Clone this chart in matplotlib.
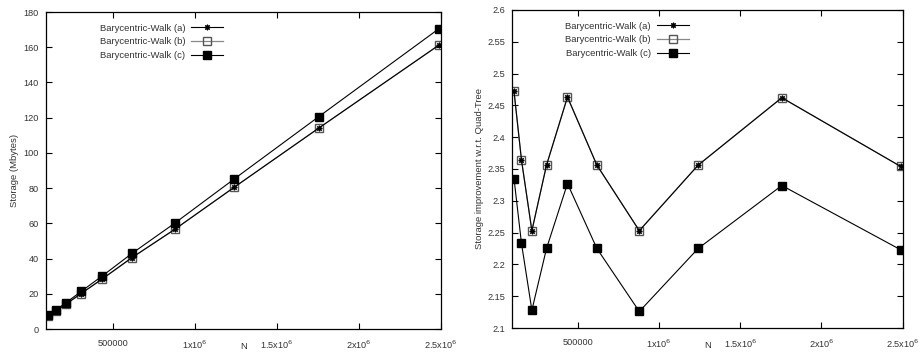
import numpy as np
import matplotlib
matplotlib.use('Agg')
import matplotlib.pyplot as plt
from matplotlib.ticker import FuncFormatter

plt.rcParams['font.family'] = ['Liberation Sans', 'DejaVu Sans']
plt.rcParams['font.size'] = 6.8

# problem sizes N
n_points = [108000, 154000, 218000, 308000, 437000, 618000, 879000, 1241000, 1756000, 2487000]

# left panel: storage in Mbytes
storage_a = [7.6, 10.2, 14.2, 20.1, 28.4, 40.5, 56.6, 80.5, 114.1, 161.2]
storage_b = [7.6, 10.2, 14.2, 20.1, 28.4, 40.5, 56.6, 80.5, 114.1, 161.2]
storage_c = [8.0, 10.8, 15.0, 21.3, 30.1, 42.9, 60.1, 85.2, 120.6, 170.5]

# right panel: storage improvement w.r.t. Quad-Tree
improve_a = [2.472, 2.364, 2.253, 2.356, 2.463, 2.356, 2.253, 2.356, 2.462, 2.354]
improve_b = [2.472, 2.364, 2.253, 2.356, 2.463, 2.356, 2.253, 2.356, 2.462, 2.354]
improve_c = [2.335, 2.233, 2.128, 2.225, 2.327, 2.225, 2.126, 2.225, 2.324, 2.223]

labels = ['Barycentric-Walk (a)', 'Barycentric-Walk (b)', 'Barycentric-Walk (c)']
x_ticks = [500000, 1000000, 1500000, 2000000, 2500000]
x_ticklabels = ['500000', r'1x10$^6$', r'1.5x10$^6$', r'2x10$^6$', r'2.5x10$^6$']
TEXT = '#333333'


def draw_series(ax, ya, yb, yc):
    # (b) goes below (a) so the overlapping line looks black
    lb, = ax.plot(n_points, yb, color='#888888', lw=0.9, marker='s', ms=6,
                  mfc='none', mew=1.0, mec='#555555', label=labels[1])
    la, = ax.plot(n_points, ya, color='black', lw=0.8, marker=(8, 2, 0), ms=4,
                  mew=0.8, mec='black', label=labels[0])
    lc, = ax.plot(n_points, yc, color='black', lw=0.8, marker='s', ms=6,
                  mfc='black', mec='black', label=labels[2])
    return [la, lb, lc]


def style_axes(ax, handles):
    ax.set_xlim(95000, 2500000)
    ax.set_xticks(x_ticks)
    ax.set_xticklabels(x_ticklabels)
    ax.tick_params(direction='in', top=True, right=True, length=4, width=0.8,
                   labelsize=6.6, labelcolor=TEXT, pad=5)
    ax.tick_params(axis='x', pad=7)
    for sp in ax.spines.values():
        sp.set_linewidth(0.9)
    ax.set_xlabel('N', color=TEXT, fontsize=6.8)
    ax.xaxis.set_label_coords(0.5, -0.042)
    leg = ax.legend(handles=handles, loc='upper left', bbox_to_anchor=(0.115, 0.99),
                    frameon=False, markerfirst=False, handlelength=3.4,
                    handletextpad=0.6, labelspacing=0.5, fontsize=6.8)
    for t in leg.get_texts():
        t.set_color(TEXT)


fig = plt.figure(figsize=(9.24, 3.54), dpi=100)

ax1 = fig.add_axes([0.0498, 0.0706, 0.4275, 0.8955])
h1 = draw_series(ax1, storage_a, storage_b, storage_c)
ax1.set_ylim(0, 180)
ax1.set_yticks(np.arange(0, 181, 20))
style_axes(ax1, h1)
ax1.set_ylabel('Storage (Mbytes)', color=TEXT, fontsize=6.8)
ax1.yaxis.set_label_coords(-0.068, 0.5)

ax2 = fig.add_axes([0.554, 0.0734, 0.423, 0.8986])
h2 = draw_series(ax2, improve_a, improve_b, improve_c)
ax2.set_ylim(2.1, 2.6)
ax2.set_yticks(np.arange(2.1, 2.601, 0.05))
ax2.yaxis.set_major_formatter(FuncFormatter(lambda v, p: '%g' % round(v, 2)))
style_axes(ax2, h2)
ax2.set_ylabel('Storage improvement w.r.t. Quad-Tree', color=TEXT, fontsize=6.8)
ax2.yaxis.set_label_coords(-0.072, 0.5)

plt.savefig('out.png', dpi=100)
